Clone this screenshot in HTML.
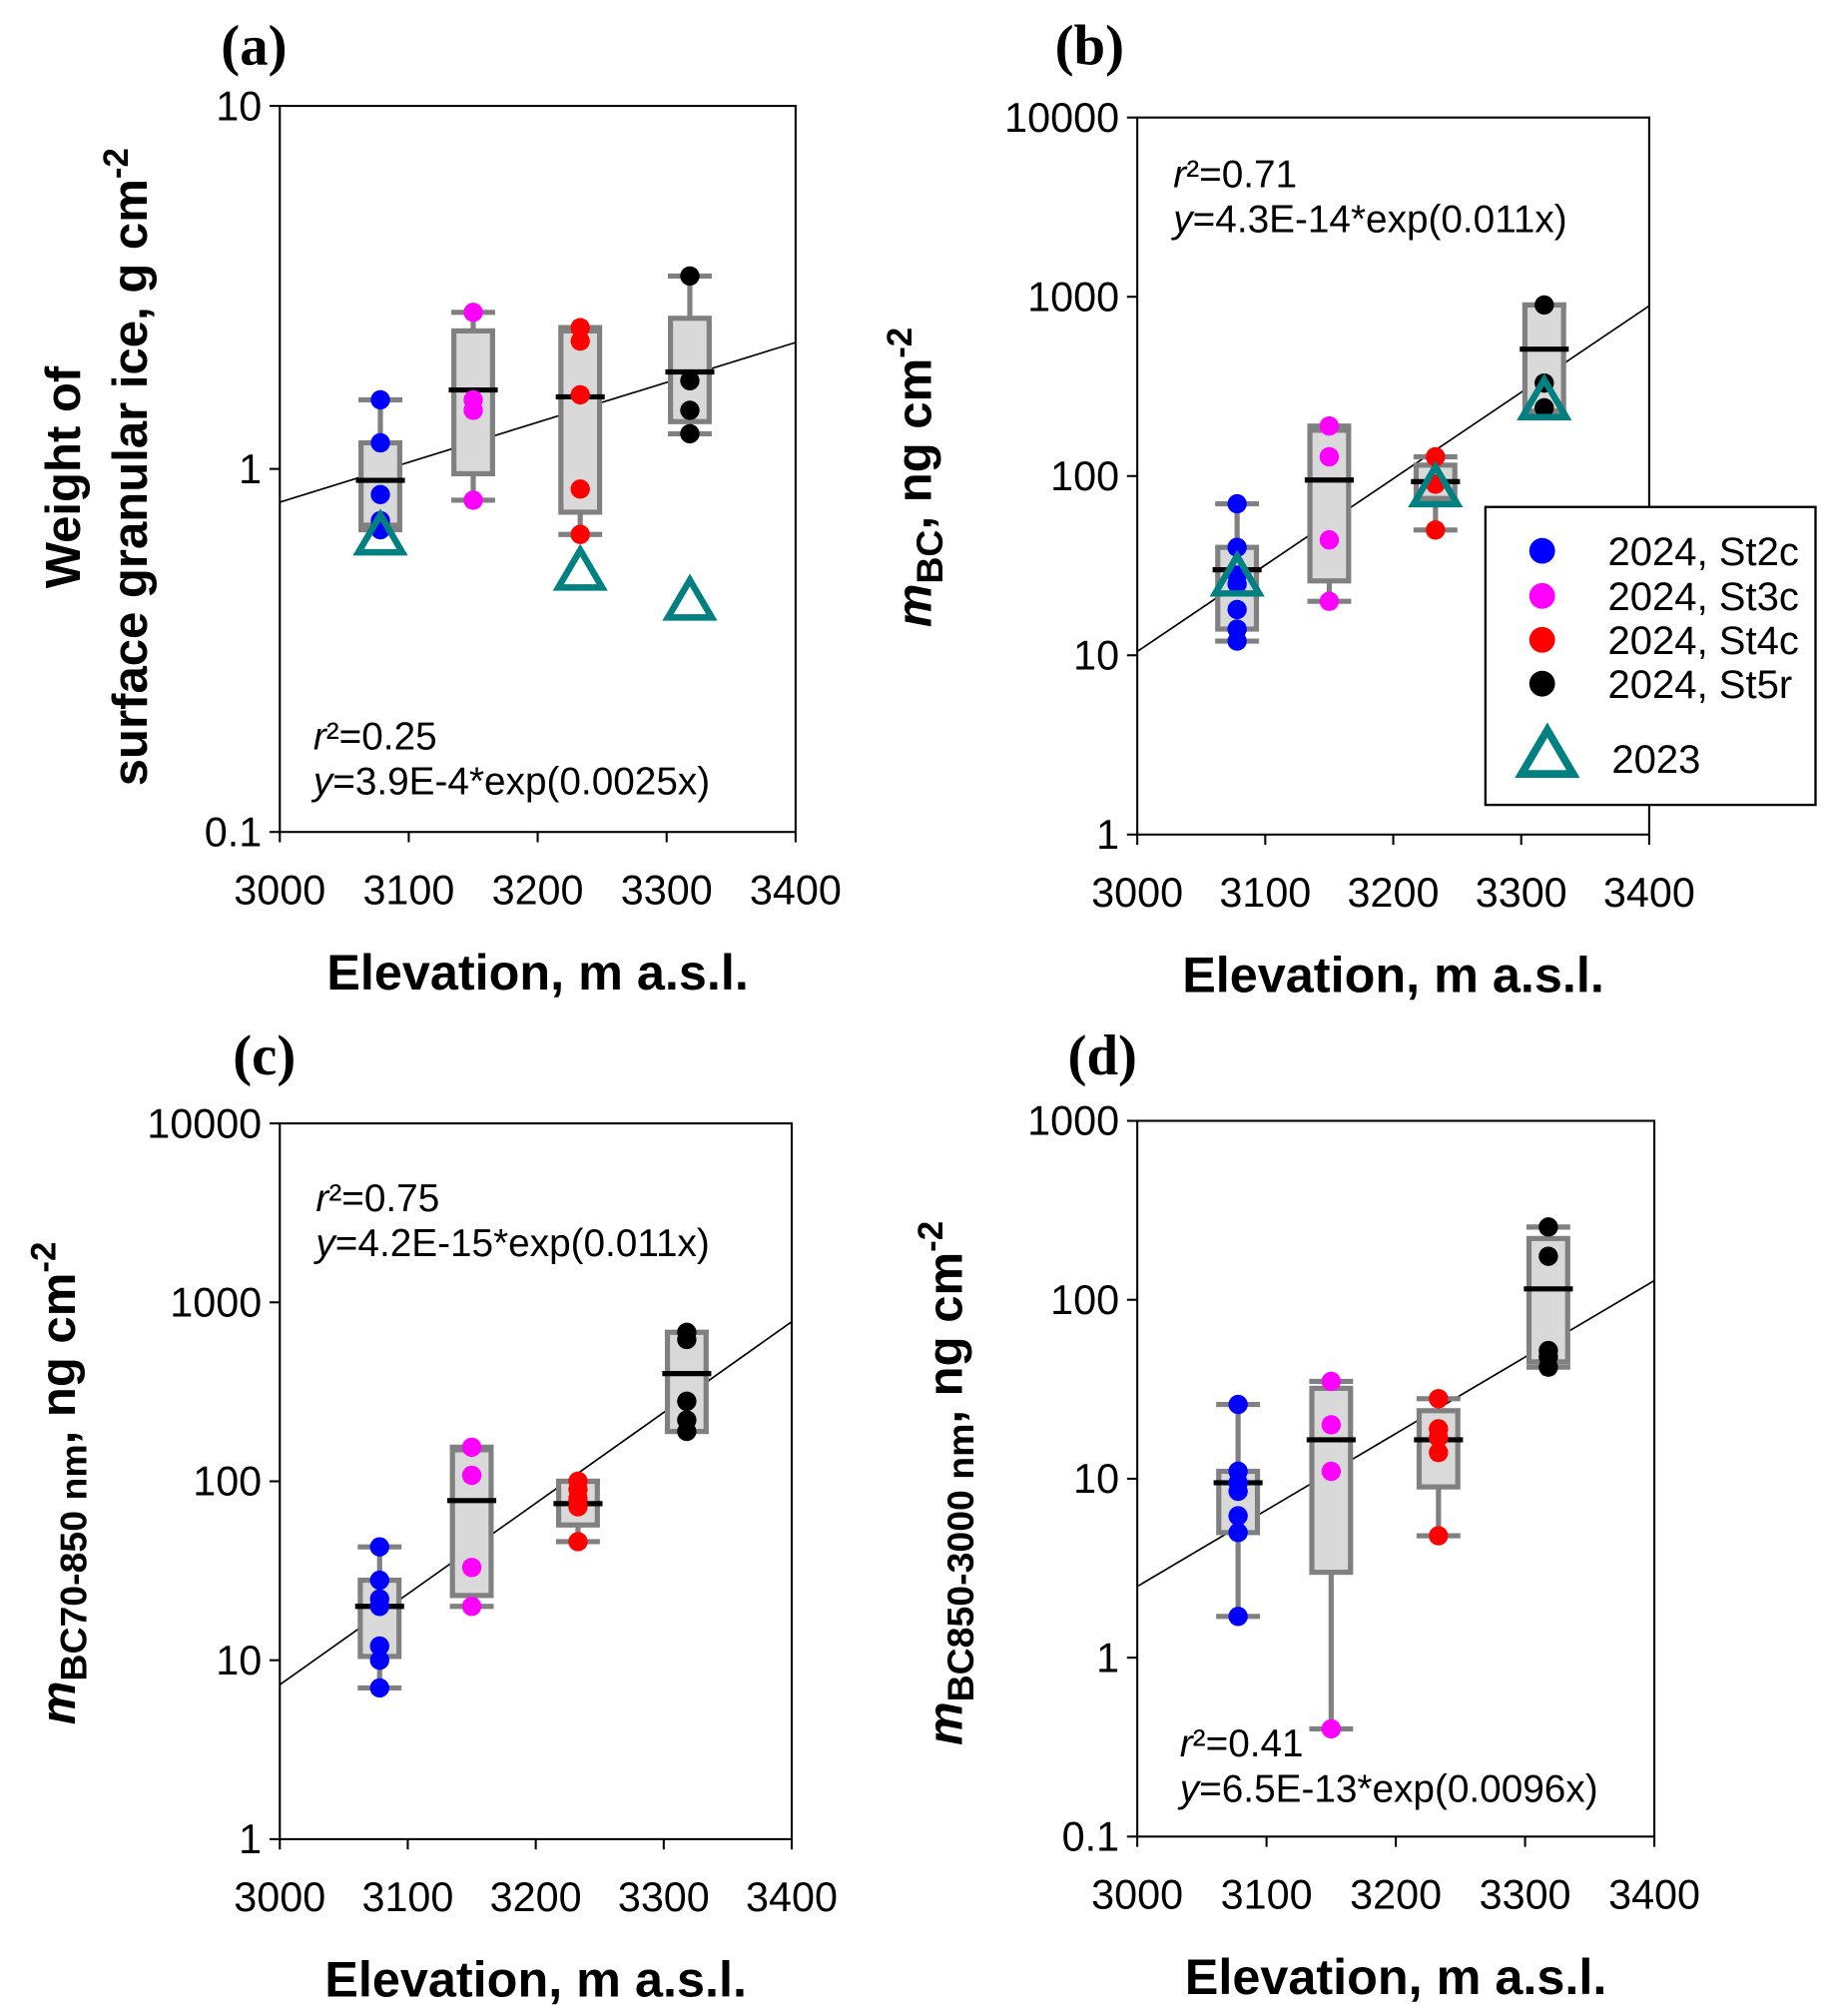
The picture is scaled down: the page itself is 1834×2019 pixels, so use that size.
<!DOCTYPE html>
<html><head><meta charset="utf-8">
<style>
html,body{margin:0;padding:0;background:#fff;}
svg{display:block;}
text{font-family:"Liberation Sans",Arial,sans-serif;}
</style></head>
<body>
<svg id="fig" width="1834" height="2019" viewBox="0 0 1420 1563" xmlns="http://www.w3.org/2000/svg"></svg>
<script>
// ---- data (x positions of stations, m a.s.l.) ----
const stationX = [3078, 3150, 3233, 3318];
const stationNames = ["St2c","St3c","St4c","St5r"];
const stationColors = ["#0000ff","#ff00ff","#ff0000","#000000"];
const xTicks = [3000, 3100, 3200, 3300, 3400];

// Panel a
const aPoints = [[1.55,1.18,0.85,0.72,0.68],[2.7,1.55,1.45,0.82],[2.45,2.25,1.6,0.88,0.66],[3.4,1.75,1.45,1.25]];
const aBoxLow = [0.70,0.97,0.76,1.35];
const aBoxHigh = [1.18,2.4,2.4,2.6];
const aMedian = [0.93,1.65,1.58,1.85];
const aWhiskLow = [0.68,0.82,0.66,1.25];
const aWhiskHigh = [1.55,2.7,2.45,3.4];
const a2023X = [3078,3233,3318];
const a2023Y = [0.65,0.52,0.43];
const aFit = [0.81, 2.23];
const aYTicks = [0.1, 1, 10];
const aYTickLabels = ["0.1","1","10"];

// Panel b
const bPoints = [[70,40,28,25,18,14,12],[190,128,44,20],[128,90,50],[900,330,240]];
const bBoxLow = [14,26,75,230];
const bBoxHigh = [40,180,115,900];
const bMedian = [30,95,93,510];
const bWhiskLow = [12,20,50,230];
const bWhiskHigh = [70,190,128,900];
const b2023X = [3078,3233,3318];
const b2023Y = [27,85,260];
const bFit = [10.5, 890];
const bYTicks = [1,10,100,1000,10000];
const bYTickLabels = ["1","10","100","1000","10000"];

// Panel c
const cPoints = [[43,28,22,20,12,10,7],[155,108,33,20],[100,90,80,72,46],[680,620,280,220,190]];
const cBoxLow = [10.5,23,57,190];
const cBoxHigh = [28,150,100,680];
const cMedian = [20,78,75,400];
const cWhiskLow = [7,20,46,190];
const cWhiskHigh = [43,155,100,680];
const cFit = [7.3, 780];
const cYTicks = [1,10,100,1000,10000];
const cYTickLabels = ["1","10","100","1000","10000"];

// Panel d
const dPoints = [[26,11,9.5,8.5,6.2,5,1.7],[35,20,11,0.4],[28,19,17,14,4.8],[255,175,52,48,42]];
const dBoxLow = [5,3,9,45];
const dBoxHigh = [11,32,24,220];
const dMedian = [9.5,16.5,16.5,115];
const dWhiskLow = [1.7,0.4,4.8,42];
const dWhiskHigh = [26,35,28,255];
const dFit = [2.5, 128];
const dYTicks = [0.1,1,10,100,1000];
const dYTickLabels = ["0.1","1","10","100","1000"];

const NS = "http://www.w3.org/2000/svg";
const svg = document.getElementById('fig');
function mk(tag, attrs, parent){
  const e = document.createElementNS(NS, tag);
  for (const k in attrs) e.setAttribute(k, attrs[k]);
  (parent||svg).appendChild(e);
  return e;
}

function panel(cfg){
  const g = mk('g', {});
  
  
  const L=cfg.x0, R=cfg.x1, T=cfg.y0, B=cfg.y1;
  const lmin=Math.log10(cfg.ymin), lmax=Math.log10(cfg.ymax);
  const sx = v => L + (v-3000)/(400)*(R-L);
  const sy = v => B - (Math.log10(v)-lmin)/(lmax-lmin)*(B-T);

  const fl = mk('line', {x1:sx(3000), y1:sy(cfg.fit[0]), x2:sx(3400), y2:sy(cfg.fit[1]), stroke:'#000', 'stroke-width':1.3}, g);
  
  

  for (let i=0;i<4;i++){
    const cx = sx(stationX[i]);
    const bg = mk('g', {}, g);
    
    
    const gray='#808080';
    mk('line',{x1:cx,y1:sy(cfg.wl[i]),x2:cx,y2:sy(cfg.wh[i]),stroke:gray,'stroke-width':4},bg);
    mk('line',{x1:cx-17,y1:sy(cfg.wl[i]),x2:cx+17,y2:sy(cfg.wl[i]),stroke:gray,'stroke-width':4},bg);
    mk('line',{x1:cx-17,y1:sy(cfg.wh[i]),x2:cx+17,y2:sy(cfg.wh[i]),stroke:gray,'stroke-width':4},bg);
    mk('rect',{x:cx-15,y:sy(cfg.bh[i]),width:30,height:sy(cfg.bl[i])-sy(cfg.bh[i]),fill:'#d9d9d9',stroke:gray,'stroke-width':4},bg);
    mk('line',{x1:cx-19,y1:sy(cfg.med[i]),x2:cx+19,y2:sy(cfg.med[i]),stroke:'#000','stroke-width':4},bg);
    cfg.pts[i].forEach(v=>{
      const c = mk('circle',{cx:cx,cy:sy(v),r:7.5,fill:stationColors[i]},bg);
      
      
    });
  }
  if (cfg.tx){
    for (let j=0;j<cfg.tx.length;j++){
      const cx=sx(cfg.tx[j]), cy=sy(cfg.ty[j]);
      const t = mk('polygon',{points:`${cx},${cy-17} ${cx-17},${cy+12} ${cx+17},${cy+12}`,fill:'none',stroke:'#008080','stroke-width':5},g);
      
      
    }
  }
  const fr = mk('rect',{x:L,y:T,width:R-L,height:B-T,fill:'none',stroke:'#000','stroke-width':1.6},g);
  
  
  cfg.yt.forEach((v,k)=>{
    mk('line',{x1:L-8,y1:sy(v),x2:L,y2:sy(v),stroke:'#000','stroke-width':1.6},g);
    const t = mk('text',{x:L-14,y:sy(v)+11,'font-size':32,'text-anchor':'end'},g);
    t.textContent = cfg.ytl[k];
    
    
  });
  xTicks.forEach(v=>{
    mk('line',{x1:sx(v),y1:B,x2:sx(v),y2:B+8,stroke:'#000','stroke-width':1.6},g);
    const t = mk('text',{x:sx(v),y:B+56,'font-size':32,'text-anchor':'middle'},g);
    t.textContent = v;
    
    
  });
  const xt = mk('text',{x:(L+R)/2,y:B+122,'font-size':39,'font-weight':'bold','text-anchor':'middle'},g);
  xt.textContent='Elevation, m a.s.l.';
  
  
  const pl = mk('text',{x:cfg.lx,y:cfg.ly,'font-size':44,'font-weight':'bold','text-anchor':'middle',style:'font-family:"Liberation Serif",serif'},g);
  pl.textContent='('+cfg.id+')';
  
  
  const e1 = mk('text',{x:cfg.ex,y:cfg.ey,'font-size':30},g);
  e1.innerHTML = '<tspan font-style="italic">r</tspan>²=' + cfg.r2;
  
  
  const e2 = mk('text',{x:cfg.ex,y:cfg.ey+35,'font-size':30},g);
  e2.innerHTML = '<tspan font-style="italic">y</tspan>=' + cfg.eq;
  
  
  return g;
}

panel({id:'a',x0:217,x1:617,y0:82,y1:645,ymin:0.1,ymax:10,pts:aPoints,bl:aBoxLow,bh:aBoxHigh,med:aMedian,wl:aWhiskLow,wh:aWhiskHigh,tx:a2023X,ty:a2023Y,fit:aFit,yt:aYTicks,ytl:aYTickLabels,lx:197,ly:50,ex:243,ey:581,r2:'0.25',eq:'3.9E-4*exp(0.0025x)'});
panel({id:'b',x0:882,x1:1279,y0:91,y1:647,ymin:1,ymax:10000,pts:bPoints,bl:bBoxLow,bh:bBoxHigh,med:bMedian,wl:bWhiskLow,wh:bWhiskHigh,tx:b2023X,ty:b2023Y,fit:bFit,yt:bYTicks,ytl:bYTickLabels,lx:845,ly:50,ex:910,ey:145,r2:'0.71',eq:'4.3E-14*exp(0.011x)'});
panel({id:'c',x0:217,x1:614,y0:871,y1:1426,ymin:1,ymax:10000,pts:cPoints,bl:cBoxLow,bh:cBoxHigh,med:cMedian,wl:cWhiskLow,wh:cWhiskHigh,fit:cFit,yt:cYTicks,ytl:cYTickLabels,lx:205,ly:833,ex:245,ey:939,r2:'0.75',eq:'4.2E-15*exp(0.011x)'});
panel({id:'d',x0:882,x1:1283,y0:869,y1:1424,ymin:0.1,ymax:1000,pts:dPoints,bl:dBoxLow,bh:dBoxHigh,med:dMedian,wl:dWhiskLow,wh:dWhiskHigh,fit:dFit,yt:dYTicks,ytl:dYTickLabels,lx:855,ly:833,ex:915,ey:1362,r2:'0.41',eq:'6.5E-13*exp(0.0096x)'});

function ytitle(x,y,html,name){
  const t = mk('text',{x:0,y:0,'font-size':38,'font-weight':'bold','text-anchor':'middle',transform:`translate(${x},${y}) rotate(-90)`});
  t.innerHTML = html;
  
  
}
ytitle(62,370,'Weight of','y-axis-title-a-line1');
ytitle(114,362,'surface granular ice, g cm<tspan dy="-15" font-size="27">-2</tspan>','y-axis-title-a-line2');
ytitle(722,370,'<tspan font-style="italic">m</tspan><tspan dy="9" font-size="29">BC</tspan><tspan dy="-9">, ng cm</tspan><tspan dy="-15" font-size="27">-2</tspan>','y-axis-title-b');
ytitle(58,1150,'<tspan font-style="italic">m</tspan><tspan dy="9" font-size="29">BC70-850 nm</tspan><tspan dy="-9">, ng cm</tspan><tspan dy="-15" font-size="27">-2</tspan>','y-axis-title-c');
ytitle(746,1150,'<tspan font-style="italic">m</tspan><tspan dy="9" font-size="29">BC850-3000 nm</tspan><tspan dy="-9">, ng cm</tspan><tspan dy="-15" font-size="27">-2</tspan>','y-axis-title-d');

const lg = mk('g',{});


mk('rect',{x:1152,y:393,width:256,height:231,fill:'#fff',stroke:'#000','stroke-width':1.8},lg);
const legY=[427,462,496,530];
for(let i=0;i<4;i++){
  const c = mk('circle',{cx:1196,cy:legY[i],r:10,fill:stationColors[i]},lg);
  
  
  const t = mk('text',{x:1247,y:legY[i]+11,'font-size':31},lg);
  t.textContent='2024, '+stationNames[i];
  
  
}
const lt = mk('polygon',{points:'1200,566 1180,600 1220,600',fill:'none',stroke:'#008080','stroke-width':6},lg);


const ltt = mk('text',{x:1250,y:599,'font-size':31},lg);
ltt.textContent='2023';


</script>
</body></html>
